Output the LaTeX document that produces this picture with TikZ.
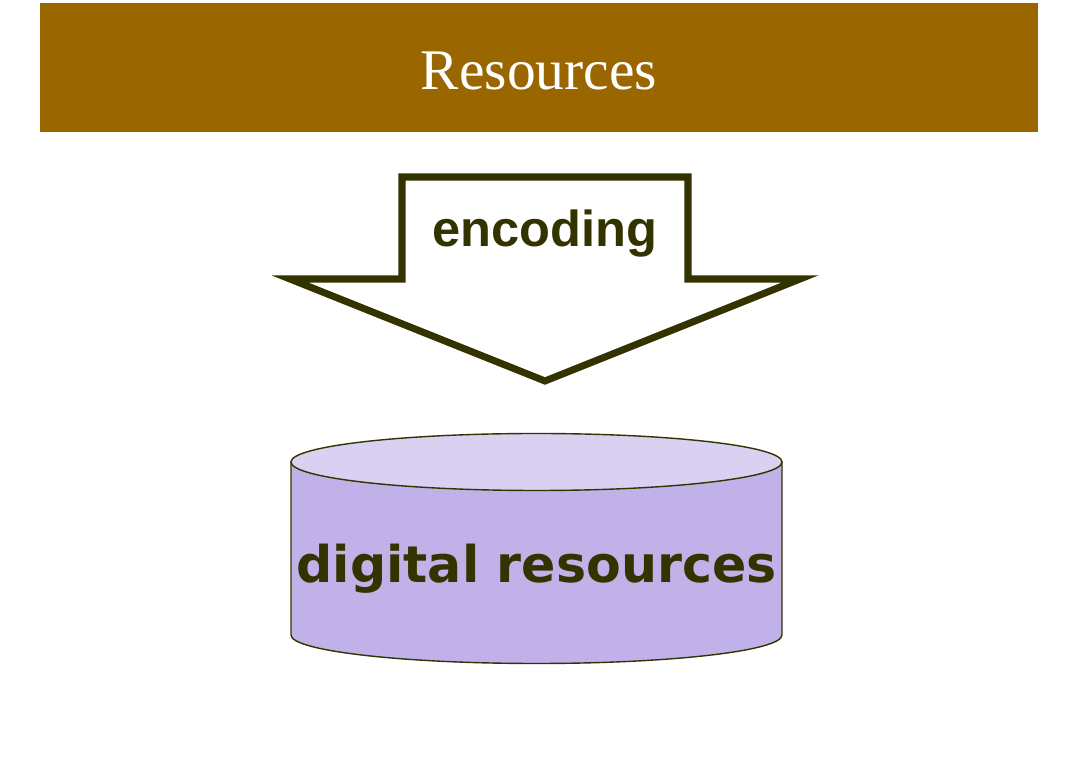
\documentclass[tikz,border=0pt]{standalone}
\usepackage{fontspec}
\setmainfont{Liberation Serif}
\newfontfamily\arrowfont{Liberation Sans}
\newfontfamily\diskfont{DejaVu Sans}
\definecolor{banner}{RGB}{153,102,0}
\definecolor{darkolive}{RGB}{51,51,0}
\definecolor{disktop}{RGB}{217,208,242}
\definecolor{diskbody}{RGB}{192,178,232}
\newcommand\DiskShape[5]{%
    % #1,#2 centre of top face, #3 half width, #4 half height of ends, #5 depth
    \filldraw[fill=diskbody] (#1-#3,#2) -- (#1-#3,#2-#5)
        arc[start angle=180,end angle=360,x radius=#3,y radius=#4] -- (#1+#3,#2) -- cycle;
    \filldraw[fill=disktop] (#1,#2) ellipse[x radius=#3,y radius=#4];
    \coordinate (DiskCentre) at (#1,#2-#5/2);
}
\tikzset{
    title/.style={text=white,font=\fontsize{32.7}{36}\selectfont,anchor=base},
    label/.style={text=darkolive,anchor=base},
}

\begin{document}
\begin{tikzpicture}[x=0.02cm,y=0.02cm]
    \useasboundingbox (0,0) rectangle (1090,-783);
    \fill[banner] (40,-3) rectangle (1038,-132);
    \node[title] (head) at (539,-90) {Resources};
    \begin{scope}[draw=darkolive,line width=4pt] % arrow
        \draw (290,-279) -- (402,-279) -- (402,-177) -- (688,-177) -- (688,-279)
            -- (800,-279) -- (545,-381) -- cycle;
        \node[label,font=\arrowfont\bfseries\fontsize{28.8}{32}\selectfont] (enc) at (545,-247) {encoding};
    \end{scope}
    \begin{scope}[draw=darkolive,line width=0.8pt] % disk
        \DiskShape{536.5}{-462}{245.5}{28.5}{173}
        \node[label,font=\diskfont\bfseries\fontsize{28.8}{32}\selectfont] (disk) at (536.5,-583) {digital resources};
    \end{scope}
\end{tikzpicture}
\end{document}
